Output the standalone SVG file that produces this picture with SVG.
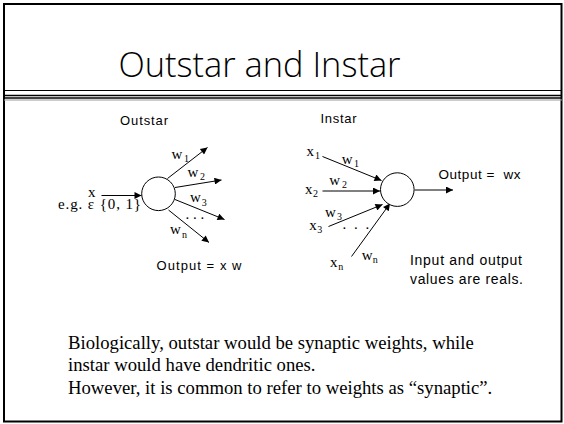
<svg xmlns="http://www.w3.org/2000/svg" width="564" height="424" viewBox="0 0 564 424">
<defs>
<marker id="ah" viewBox="0 0 10 10" refX="10" refY="5" markerWidth="9" markerHeight="7" markerUnits="userSpaceOnUse" orient="auto">
<path d="M0,0 L10,5 L0,10 z" fill="#000"/>
</marker>
<style>
.sans{font-family:"Liberation Sans",Arial,sans-serif;fill:#000}
.serif{font-family:"Liberation Serif","Times New Roman",serif;fill:#000}
.lbl{font-family:"Liberation Serif","Times New Roman",serif;font-size:15px;fill:#000}
.sub{font-family:"Liberation Serif","Times New Roman",serif;font-size:10px;fill:#000}
.edge{stroke:#000;stroke-width:1;fill:none;marker-end:url(#ah)}
.node{fill:#fff;stroke:#000;stroke-width:1}
</style>
</defs>
<rect width="564" height="424" fill="#fff"/>
<rect x="4" y="4" width="557.5" height="417.5" fill="none" stroke="#000" stroke-width="2"/>
<g id="header-rules" stroke="#000">
<line x1="4" y1="90.5" x2="562" y2="90.5" stroke-width="1"/>
<line x1="4" y1="95.5" x2="562" y2="95.5" stroke-width="1.5"/>
<line x1="4" y1="98" x2="562" y2="98" stroke-width="1.5"/>
<line x1="4" y1="100" x2="562" y2="100" stroke-width="1" stroke="#999"/>
</g>
<text id="title" x="118.5" y="76.5" font-family="'Open Sans','DejaVu Sans',sans-serif" font-weight="300" font-size="35" textLength="282" lengthAdjust="spacingAndGlyphs">Outstar and Instar</text>

<text class="sans" x="120" y="125" font-size="13" textLength="48" lengthAdjust="spacing">Outstar</text>
<text class="sans" x="320.5" y="122.5" font-size="13" textLength="36" lengthAdjust="spacing">Instar</text>

<g id="connectors">
<line class="edge" x1="101.5" y1="195.5" x2="141.5" y2="195.5"/>
<line class="edge" x1="167.5" y1="178.5" x2="207.5" y2="147.5"/>
<line class="edge" x1="175" y1="187.5" x2="221.5" y2="180"/>
<line class="edge" x1="175" y1="199.5" x2="224.5" y2="219.5"/>
<line class="edge" x1="168.5" y1="210" x2="209" y2="242.5"/>
<line class="edge" x1="322.5" y1="156.5" x2="381.5" y2="180.5"/>
<line class="edge" x1="322.5" y1="191" x2="380" y2="191"/>
<line class="edge" x1="328.5" y1="226.5" x2="382.5" y2="204.5"/>
<line class="edge" x1="351.5" y1="256.5" x2="390" y2="203.5"/>
<line class="edge" x1="414.5" y1="190" x2="453" y2="190"/>
</g>

<g id="outstar-node">
<circle class="node" cx="158.5" cy="193.8" r="16.8"/>
</g>
<g id="instar-node">
<circle class="node" cx="397.3" cy="189.6" r="16.8"/>
</g>

<g id="outstar-labels">
<text class="lbl" x="88" y="196.5">x</text>
<text class="lbl" x="58" y="208.5" font-size="14" textLength="83" lengthAdjust="spacing">e.g. ε {0, 1}</text>
<text class="lbl" x="171.5" y="159">w</text><text class="sub" x="184" y="162">1</text>
<text class="lbl" x="187.5" y="176.5">w</text><text class="sub" x="200" y="179.5">2</text>
<text class="lbl" x="190" y="202">w</text><text class="sub" x="201.7" y="205.5">3</text>
<text class="lbl" x="185.5" y="218.5">. . .</text>
<text class="lbl" x="170" y="233.5">w</text><text class="sub" x="182" y="237.5">n</text>
<text class="sans" x="156.5" y="270" font-size="13" textLength="85" lengthAdjust="spacing">Output = x w</text>
</g>

<g id="instar-labels">
<text class="lbl" x="306.5" y="156">x</text><text class="sub" x="315" y="159">1</text>
<text class="lbl" x="341.7" y="164">w</text><text class="sub" x="354" y="167">1</text>
<text class="lbl" x="305" y="193.5">x</text><text class="sub" x="313" y="196.5">2</text>
<text class="lbl" x="329.3" y="184.5">w</text><text class="sub" x="342" y="187.5">2</text>
<text class="lbl" x="325" y="216.5">w</text><text class="sub" x="337" y="220">3</text>
<text class="lbl" x="309.3" y="229.5">x</text><text class="sub" x="317.3" y="233">3</text>
<text class="lbl" x="342.5" y="228.5" letter-spacing="2">. . .</text>
<text class="lbl" x="361.7" y="260">w</text><text class="sub" x="372.7" y="262.5">n</text>
<text class="lbl" x="330" y="266.5">x</text><text class="sub" x="338.3" y="269.5">n</text>
<text class="sans" x="438.5" y="179" font-size="13.5" textLength="82" lengthAdjust="spacing">Output =&#160; wx</text>
<text class="sans" x="410" y="264.5" font-size="14" textLength="112" lengthAdjust="spacing">Input and output</text>
<text class="sans" x="410" y="283.5" font-size="14" textLength="113" lengthAdjust="spacing">values are reals.</text>
</g>

<g id="body-text" class="serif" font-size="18.7">
<text x="68" y="348.5">Biologically, outstar would be synaptic weights, while</text>
<text x="68" y="371">instar would have dendritic ones.</text>
<text x="68" y="393.5">However, it is common to refer to weights as “synaptic”.</text>
</g>
</svg>
